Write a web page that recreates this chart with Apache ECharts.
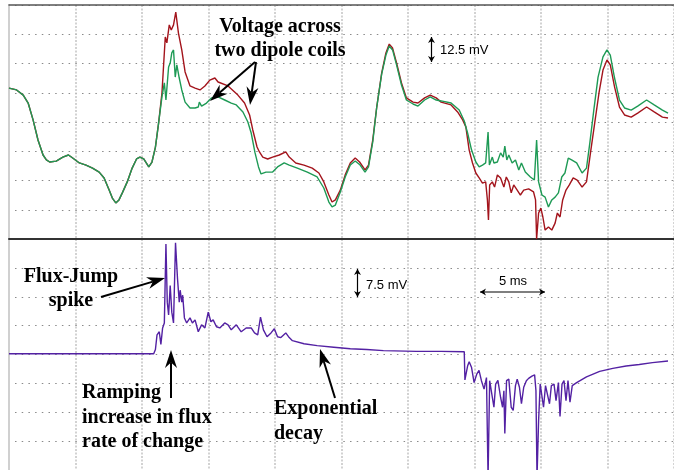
<!DOCTYPE html>
<html>
<head>
<meta charset="utf-8">
<script src="https://cdn.jsdelivr.net/npm/echarts@6/dist/echarts.min.js"></script>
<style>
  html, body { margin: 0; padding: 0; background: #fff; }
  #chart { width: 674px; height: 470px; }
</style>
</head>
<body>
<div id="chart"></div>
<script>
// time in ms (5 ms / division), voltage in mV
// top panel: 12.5 mV / div, bottom panel: 7.5 mV / div
const coilsCommon = [
  [0, 14.5], [0.57, 13.7], [1.07, 11.5], [1.44, 8.1], [1.81, 0.9], [2.18, -7.7], [2.56, -14.1],
  [2.81, -16.2], [3.06, -17.1], [3.55, -16.7], [4.05, -15.0], [4.47, -14.1], [4.79, -15.4],
  [5.29, -17.5], [5.79, -18.4], [6.28, -19.7], [6.78, -21.4], [7.15, -23.9], [7.53, -29.1],
  [7.77, -32.5], [8.03, -34.6], [8.27, -33.3], [8.52, -30.3], [8.89, -25.6], [9.26, -19.7],
  [9.59, -15.8], [9.84, -15.0], [10.13, -15.8], [10.51, -19.2], [10.75, -17.1], [11.01, -10.7],
  [11.25, -0.4]
];

const coilRed = [
  [11.50, 12.4], [11.75, 36.3], [11.87, 33.8], [12.05, 41.5], [12.20, 39.3], [12.37, 41.5],
  [12.54, 47.0], [12.74, 38.0], [12.99, 30.8], [13.24, 21.4], [13.61, 15.4], [13.99, 14.5],
  [14.36, 13.7], [14.73, 15.4], [15.10, 17.9], [15.48, 18.8], [15.72, 17.1], [16.47, 15.4],
  [17.21, 11.5], [17.71, 8.1], [18.09, 3.0], [18.33, -3.4], [18.65, -10.7], [18.83, -12.8],
  [19.08, -15.0], [19.45, -15.8], [19.82, -15.0], [20.32, -14.1], [20.81, -12.8], [21.07, -15.0],
  [21.56, -17.5], [22.18, -18.4], [22.80, -19.7], [23.30, -21.8], [23.67, -25.6], [24.05, -31.2],
  [24.29, -34.2], [24.54, -33.3], [24.91, -29.1], [25.28, -22.6], [25.66, -17.5], [26.03, -15.4],
  [26.36, -17.1], [26.77, -20.5], [27.03, -18.4], [27.35, -7.7], [27.65, 6.4], [28.02, 20.9],
  [28.34, 29.5], [28.59, 33.3], [28.84, 31.6], [29.14, 25.2], [29.51, 16.7], [29.88, 10.3],
  [30.38, 8.5], [30.75, 8.1], [31.25, 10.3], [31.67, 11.5], [32.12, 10.3], [32.49, 8.5],
  [33.24, 7.3], [33.73, 4.3], [34.11, 0.9], [34.35, -2.1], [34.60, -12.0], [34.85, -17.5],
  [35.10, -21.8], [35.35, -23.9], [35.60, -26.1], [35.84, -25.6], [35.97, -33.3], [36.05, -41.9],
  [36.14, -26.9], [36.34, -25.6], [36.51, -27.8], [36.72, -22.6], [36.96, -23.9], [37.21, -27.8],
  [37.39, -23.5], [37.58, -25.6], [37.76, -30.3], [37.95, -26.9], [38.21, -29.1], [38.45, -31.2],
  [38.70, -29.1], [39.07, -28.6], [39.44, -29.9], [39.59, -33.3], [39.67, -50.0], [39.82, -38.9],
  [39.99, -36.8], [40.14, -40.6], [40.31, -46.2], [40.56, -44.9], [40.81, -46.2], [41.06, -43.2],
  [41.23, -38.9], [41.43, -40.6], [41.63, -33.3], [41.88, -29.1], [42.13, -26.9], [42.42, -23.9],
  [42.72, -24.8], [43.09, -27.8], [43.42, -25.6], [43.72, -13.2], [44.04, -0.4], [44.36, 12.4],
  [44.66, 22.2], [44.96, 26.5], [45.21, 24.4], [45.53, 15.0], [45.90, 6.4], [46.28, 3.0],
  [46.78, 2.1], [47.27, 3.8], [47.94, 6.4], [48.51, 4.3], [49.13, 2.1], [49.55, 1.7]
];

const coilGreen = [
  [11.50, 10.7], [11.68, 16.7], [11.80, 9.4], [12.00, 23.5], [12.12, 25.2], [12.24, 29.5],
  [12.37, 30.8], [12.50, 19.2], [12.62, 24.4], [12.80, 18.8], [12.99, 13.7], [13.24, 8.5],
  [13.61, 6.0], [13.99, 6.0], [14.23, 6.4], [14.31, 8.5], [14.48, 6.8], [14.85, 8.1],
  [15.22, 10.3], [15.72, 10.7], [16.22, 9.4], [16.71, 8.1], [17.09, 7.3], [17.59, 4.3],
  [17.96, 0.0], [18.21, -4.7], [18.50, -13.2], [18.76, -19.2], [18.95, -22.2], [19.32, -21.4],
  [19.82, -21.4], [20.19, -19.2], [20.69, -17.5], [21.07, -18.4], [21.68, -19.7], [22.43, -21.4],
  [23.17, -23.5], [23.67, -28.2], [24.05, -34.2], [24.29, -36.3], [24.54, -35.5], [24.91, -29.9],
  [25.28, -23.5], [25.66, -18.4], [26.03, -16.7], [26.40, -18.4], [26.77, -21.4], [27.03, -19.2],
  [27.35, -8.5], [27.65, 6.4], [28.02, 20.5], [28.34, 28.6], [28.59, 32.5], [28.84, 30.8],
  [29.14, 24.4], [29.51, 15.8], [29.88, 9.4], [30.38, 7.7], [30.75, 6.8], [31.25, 9.4],
  [31.67, 10.7], [32.12, 9.4], [32.49, 9.0], [33.24, 8.1], [33.85, 5.1], [34.23, 0.4],
  [34.35, 0.0], [34.48, -4.7], [34.78, -12.0], [35.10, -17.1], [35.35, -19.2], [35.60, -18.4],
  [35.84, -17.5], [36.02, -4.3], [36.12, -18.4], [36.34, -15.0], [36.46, -17.5], [36.72, -17.1],
  [36.96, -13.2], [37.16, -15.0], [37.28, -10.3], [37.43, -16.2], [37.58, -14.1], [37.83, -17.5],
  [38.08, -16.2], [38.33, -20.5], [38.53, -17.5], [38.82, -21.4], [39.20, -23.5], [39.50, -24.8],
  [39.67, -7.7], [39.82, -25.6], [40.07, -31.2], [40.31, -32.1], [40.56, -36.3], [40.81, -33.3],
  [41.06, -32.1], [41.31, -30.3], [41.56, -23.5], [41.80, -21.8], [42.05, -15.4], [42.30, -16.2],
  [42.68, -17.5], [43.09, -21.8], [43.42, -19.7], [43.67, -9.0], [43.97, 5.1], [44.29, 19.2],
  [44.66, 27.8], [44.96, 30.8], [45.21, 28.6], [45.53, 18.8], [45.90, 9.4], [46.28, 6.0],
  [46.78, 5.1], [47.27, 6.8], [47.94, 9.4], [48.51, 7.3], [49.13, 5.1], [49.55, 3.8]
];

const fluxSignal = [
  [0, 0.2], [10.88, 0.2], [11.01, 1.3], [11.13, 5.1], [11.30, 5.9], [11.42, 2.6], [11.55, 6.9],
  [11.68, 8.2], [11.80, 28.7], [11.90, 13.6], [12.00, 10.3], [12.12, 17.9], [12.24, 11.0],
  [12.37, 8.2], [12.52, 29.0], [12.67, 19.7], [12.80, 13.6], [12.87, 16.7], [12.99, 13.6],
  [13.06, 15.4], [13.19, 9.5], [13.36, 8.2], [13.61, 9.5], [13.79, 8.2], [13.99, 9.0],
  [14.23, 5.9], [14.48, 7.7], [14.73, 6.9], [14.98, 11.0], [15.18, 8.5], [15.35, 9.0],
  [15.60, 7.2], [15.85, 6.9], [16.22, 8.2], [16.47, 7.7], [16.71, 6.4], [17.09, 7.7],
  [17.46, 5.9], [17.83, 6.9], [18.21, 6.9], [18.46, 5.6], [18.70, 5.1], [18.91, 9.7],
  [19.13, 6.4], [19.40, 4.6], [19.70, 5.6], [19.95, 6.7], [20.19, 4.6], [20.44, 4.4],
  [20.81, 5.6], [21.07, 4.4], [21.31, 3.6], [22.18, 2.8], [23.17, 2.3], [24.42, 1.9],
  [25.66, 1.5], [26.90, 1.3], [28.15, 1.0], [30.63, 0.8], [32.49, 0.8], [34.23, 0.7],
  [34.28, -6.6], [34.48, -3.0], [34.60, -1.9], [34.78, -3.4], [34.97, -7.3], [35.17, -5.1],
  [35.34, -4.1], [35.52, -6.8], [35.72, -9.0], [35.90, -6.0], [36.02, -32.0], [36.14, -6.8],
  [36.27, -6.4], [36.46, -13.7], [36.59, -7.7], [36.76, -6.7], [36.96, -11.1], [37.11, -13.7],
  [37.21, -9.4], [37.28, -20.5], [37.41, -6.8], [37.58, -6.4], [37.76, -13.7], [37.91, -14.5],
  [38.08, -8.1], [38.21, -6.4], [38.38, -8.5], [38.53, -12.8], [38.70, -8.5], [38.90, -6.8],
  [39.07, -6.2], [39.32, -5.6], [39.52, -5.3], [39.62, -9.4], [39.70, -32.0], [39.82, -17.1],
  [39.94, -7.7], [40.09, -7.3], [40.19, -13.7], [40.34, -8.1], [40.49, -8.1], [40.64, -12.8],
  [40.78, -8.1], [40.98, -7.7], [41.13, -12.0], [41.31, -7.3], [41.43, -16.1], [41.58, -7.7],
  [41.73, -6.8], [41.88, -12.0], [42.03, -6.8], [42.18, -12.4], [42.35, -8.1], [42.68, -7.3],
  [43.42, -5.8], [44.41, -4.4], [45.40, -3.6], [46.40, -3.0], [47.39, -2.6], [48.38, -2.1],
  [49.55, -1.7]
];

const chart = echarts.init(document.getElementById("chart"));

const serif = '"Liberation Serif", "Times New Roman", serif';
const sans = '"Liberation Sans", Arial, sans-serif';

// arrow with a barbed head, tip at (x2, y2)
function arrow(x1, y1, x2, y2, len, half, width) {
  const d = Math.hypot(x2 - x1, y2 - y1);
  const ux = (x2 - x1) / d, uy = (y2 - y1) / d;
  const bx = x2 - ux * len, by = y2 - uy * len;
  const px = -uy * half, py = ux * half;
  return [
    {
      type: "line", z: 100,
      shape: { x1: x1, y1: y1, x2: bx + ux * len * 0.3, y2: by + uy * len * 0.3 },
      style: { stroke: "#000", lineWidth: width }
    },
    {
      type: "polygon", z: 100,
      shape: { points: [[x2, y2], [bx + px, by + py], [bx + ux * len * 0.3, by + uy * len * 0.3], [bx - px, by - py]] },
      style: { fill: "#000" }
    }
  ];
}

function doubleArrow(x1, y1, x2, y2) {
  const a = arrow(x1, y1, x2, y2, 6, 3.5, 1.2);
  const b = arrow(x2, y2, x1, y1, 6, 3.5, 1.2);
  return [a[1], b[1], { type: "line", z: 100, shape: { x1: x1, y1: y1, x2: x2, y2: y2 }, style: { stroke: "#000", lineWidth: 1.2 } }];
}

function label(x, y, text, align, lineHeight) {
  return {
    type: "text", z: 100, x: x, y: y,
    style: {
      text: text, fill: "#000", fontFamily: serif, fontWeight: "bold", fontSize: 20,
      lineHeight: lineHeight, textAlign: align, textVerticalAlign: "middle"
    }
  };
}

function small(x, y, text, align) {
  return {
    type: "text", z: 100, x: x, y: y,
    style: { text: text, fill: "#000", fontFamily: sans, fontSize: 13, textAlign: align, textVerticalAlign: "middle" }
  };
}

const xAxisBase = {
  type: "value",
  min: 0,
  max: 50,
  interval: 5,
  position: "top",
  axisTick: { show: false },
  axisLabel: { show: false },
  splitLine: { show: true, lineStyle: { color: "#c4c4c4", width: 1.5, type: [2, 1.5] } }
};

const yAxisBase = {
  type: "value",
  axisTick: { show: false },
  axisLabel: { show: false },
  axisLine: { show: true, onZero: false, lineStyle: { color: "#d0d0d0", width: 2 } },
  splitLine: { show: true, lineStyle: { color: "#8a8a8a", width: 1.2, type: [1.5, 5.2], dashOffset: -6 } }
};

const option = {
  animation: false,
  backgroundColor: "#fff",
  grid: [
    { left: 9, top: 5, width: 671, height: 234 },
    { left: 9, top: 239, width: 671, height: 234 }
  ],
  xAxis: [
    Object.assign({}, xAxisBase, { gridIndex: 0, axisLine: { show: true, onZero: false, lineStyle: { color: "#555", width: 1.5 } } }),
    Object.assign({}, xAxisBase, { gridIndex: 1, axisLine: { show: true, onZero: false, lineStyle: { color: "#333", width: 2 } } })
  ],
  yAxis: [
    Object.assign({}, yAxisBase, { gridIndex: 0, min: -50, max: 50, interval: 12.5 }),
    Object.assign({}, yAxisBase, { gridIndex: 1, min: -30, max: 30, interval: 7.5 })
  ],
  series: [
    {
      type: "line", xAxisIndex: 0, yAxisIndex: 0, showSymbol: false, clip: false,
      data: coilsCommon.concat(coilRed),
      lineStyle: { color: "#a3141c", width: 1.4 }, z: 2
    },
    {
      type: "line", xAxisIndex: 0, yAxisIndex: 0, showSymbol: false,
      data: coilsCommon.concat(coilGreen),
      lineStyle: { color: "#1e9a55", width: 1.4 }, z: 3
    },
    {
      type: "line", xAxisIndex: 1, yAxisIndex: 1, showSymbol: false,
      data: fluxSignal,
      lineStyle: { color: "#5321a3", width: 1.4 }, z: 3
    }
  ],
  graphic: [
    label(280, 39, "Voltage across\ntwo dipole coils", "center", 24),
    ...arrow(255, 62, 210, 101, 18, 6, 2),
    ...arrow(256, 62, 250, 105, 18, 6, 2),
    ...doubleArrow(431.5, 37, 431.5, 62),
    small(440, 50, "12.5 mV", "left"),
    label(71, 289, "Flux-Jump\nspike", "center", 24),
    ...arrow(101, 297, 165, 278, 18, 6, 2),
    label(82, 417.5, "Ramping\nincrease in flux\nrate of change", "left", 24.5),
    ...arrow(171, 398, 171, 350, 18, 6, 2),
    label(274, 421.5, "Exponential\ndecay", "left", 25),
    ...arrow(335, 398, 320, 349, 18, 6, 2),
    ...doubleArrow(357.5, 269, 357.5, 297),
    small(366, 285, "7.5 mV", "left"),
    small(513, 281, "5 ms", "center"),
    ...doubleArrow(480, 292, 545, 292)
  ]
};

chart.setOption(option);
</script>
</body>
</html>
